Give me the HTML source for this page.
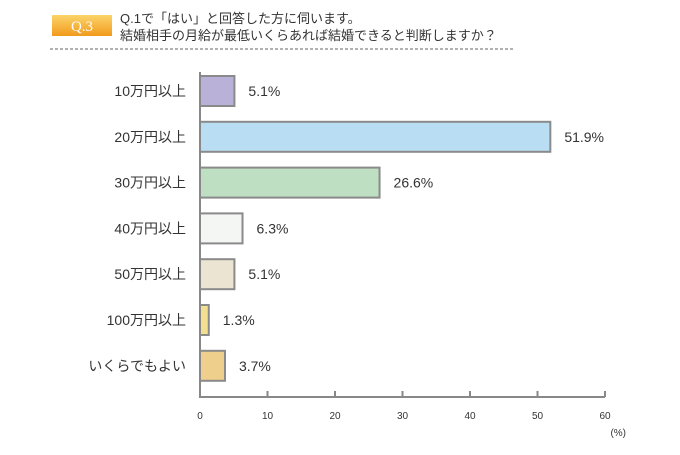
<!DOCTYPE html>
<html><head><meta charset="utf-8"><style>
body{margin:0;background:#fff;width:680px;height:450px;overflow:hidden;font-family:"Liberation Sans","Noto Sans CJK JP",sans-serif}
</style></head><body>
<svg width="680" height="450" xmlns="http://www.w3.org/2000/svg">
<defs><linearGradient id="qg" x1="0" y1="0" x2="0" y2="1"><stop offset="0" stop-color="#fbd46a"/><stop offset="1" stop-color="#f29a1c"/></linearGradient></defs>
<rect x="52" y="15" width="60" height="21" fill="url(#qg)"/>
<text x="82" y="31" text-anchor="middle" font-family="Liberation Serif,serif" font-size="15" fill="#fff">Q.3</text>
<text x="120" y="23" font-size="13" fill="#333">Q.1で「はい」と回答した方に伺います。</text>
<text x="120" y="40" font-size="13" fill="#333">結婚相手の月給が最低いくらあれば結婚できると判断しますか？</text>
<line x1="50" y1="49" x2="515" y2="49" stroke="#666" stroke-dasharray="3,2"/>
<g id="plot"></g>
</svg>
<script>
const categories=["10万円以上","20万円以上","30万円以上","40万円以上","50万円以上","100万円以上","いくらでもよい"];
const values=[5.1,51.9,26.6,6.3,5.1,1.3,3.7];
const colors=["#b9b1d8","#b9def4","#bedfc2","#f4f6f4","#ece4d2","#f3e08e","#efcf8c"];
const ticks=[0,10,20,30,40,50,60];
const X0=200,X1=605,VMAX=60,Y0=72,Y1=397;
const xs=v=>X0+(X1-X0)*v/VMAX;
const yc=i=>91+45.8*i;
const NS="http://www.w3.org/2000/svg",g=document.getElementById("plot");
function mk(t,a){const e=document.createElementNS(NS,t);for(const k in a)e.setAttribute(k,a[k]);g.appendChild(e);return e;}
categories.forEach((c,i)=>{
 const b=mk("rect",{x:X0,y:yc(i)-15,width:xs(values[i])-X0,height:30,fill:colors[i],stroke:"#8a8a8a","stroke-width":2});
 
 
 const l=mk("text",{x:186,y:yc(i)+5,"text-anchor":"end","font-size":14,fill:"#333"});l.textContent=c;
 
 
 const v=mk("text",{x:xs(values[i])+14,y:yc(i)+5,"font-size":14,fill:"#333"});v.textContent=values[i].toFixed(1)+"%";
 
 
});
const ax=mk("path",{d:`M${X0} ${Y0}V${Y1}H${X1}`,fill:"none",stroke:"#888","stroke-width":2});


ticks.forEach(t=>{
 const tk=mk("line",{x1:xs(t),x2:xs(t),y1:Y1-6,y2:Y1,stroke:"#888","stroke-width":2});
 
 
 const tl=mk("text",{x:xs(t),y:419,"text-anchor":"middle","font-size":10,fill:"#333"});tl.textContent=t;
 
 
});
const u=mk("text",{x:626,y:436,"text-anchor":"end","font-size":10,fill:"#333"});u.textContent="(%)";


</script>
</body></html>
